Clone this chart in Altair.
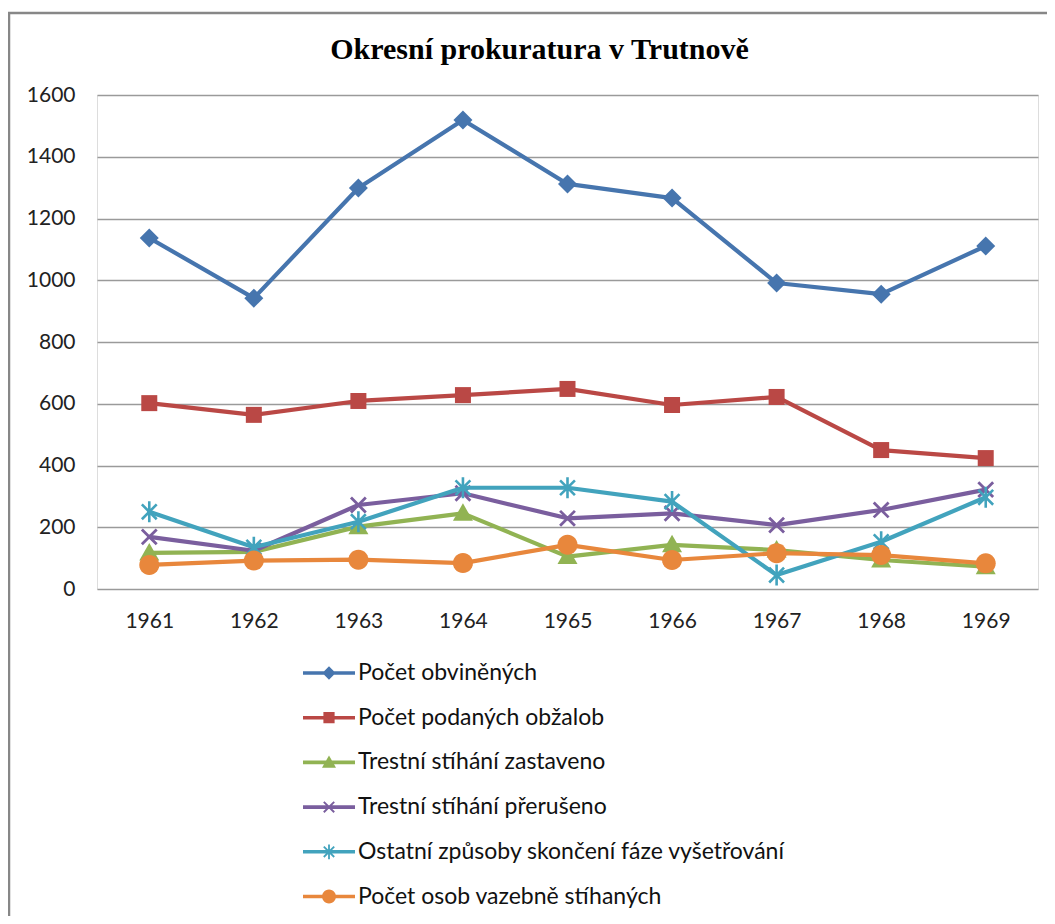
import math
import altair as alt
import pandas as pd

# ---------------- data ----------------
years = ["1961", "1962", "1963", "1964", "1965", "1966", "1967", "1968", "1969"]
series_names = [
    "Počet obviněných",
    "Počet podaných obžalob",
    "Trestní stíhání zastaveno",
    "Trestní stíhání přerušeno",
    "Ostatní způsoby skončení fáze vyšetřování",
    "Počet osob vazebně stíhaných",
]
obvinenych = [1137, 942, 1299, 1519, 1312, 1266, 991, 955, 1111]
obzalob = [602, 564, 609, 628, 648, 596, 622, 450, 424]
zastaveno = [117, 120, 202, 245, 105, 143, 126, 94, 72]
preruseno = [169, 124, 272, 310, 229, 245, 207, 256, 322]
ostatni = [250, 135, 218, 328, 328, 283, 45, 153, 297]
vazebne = [78, 92, 95, 84, 143, 94, 116, 110, 83]
series_values = [obvinenych, obzalob, zastaveno, preruseno, ostatni, vazebne]

colors = ["#4675AE", "#BA4845", "#91B353", "#7A5E9E", "#42A3BD", "#E8873C"]
marker_kinds = ["diamond", "square", "triangle", "x", "star", "circle"]


# ---------------- marker geometry helpers (style only) ----------------
def clockwise(pts):
    a = 0.0
    for i in range(len(pts)):
        x1, y1 = pts[i]
        x2, y2 = pts[(i + 1) % len(pts)]
        a += x1 * y2 - x2 * y1
    return pts if a > 0 else pts[::-1]


def bar(angle_deg, half_len, half_th):
    a = math.radians(angle_deg)
    dx, dy = math.cos(a), math.sin(a)
    nx, ny = -dy, dx
    return [
        (dx * half_len + nx * half_th, dy * half_len + ny * half_th),
        (dx * half_len - nx * half_th, dy * half_len - ny * half_th),
        (-dx * half_len - nx * half_th, -dy * half_len - ny * half_th),
        (-dx * half_len + nx * half_th, -dy * half_len + ny * half_th),
    ]


def circle(r, n=28):
    return [(r * math.cos(2 * math.pi * i / n), r * math.sin(2 * math.pi * i / n)) for i in range(n)]


def marker_polys(kind, s):
    if kind == "diamond":
        return [[(0, -9.5 * s), (9.5 * s, 0), (0, 9.5 * s), (-9.5 * s, 0)]]
    if kind == "square":
        h = 8 * s
        return [[(-h, -h), (h, -h), (h, h), (-h, h)]]
    if kind == "triangle":
        return [[(0, -10 * s), (10 * s, 7.5 * s), (-10 * s, 7.5 * s)]]
    if kind == "x":
        return [bar(45, 10.5 * s, 1.4 * s), bar(135, 10.5 * s, 1.4 * s)]
    if kind == "star":
        return [bar(45, 10.5 * s, 1.3 * s), bar(135, 10.5 * s, 1.3 * s), bar(90, 10.5 * s, 1.3 * s)]
    return [circle(10 * s)]


def to_path(polys, unit):
    parts = []
    for p in polys:
        p = clockwise(p)
        pts = ["%.4f,%.4f" % (x / unit, y / unit) for x, y in p]
        parts.append("M" + " L".join(pts) + " Z")
    return " ".join(parts)


PLOT_UNIT = 12.0  # px per path unit -> size = (2*unit)^2
plot_size = (2 * PLOT_UNIT) ** 2
plot_paths = [to_path(marker_polys(k, 1.0), PLOT_UNIT) for k in marker_kinds]

LEG_UNIT = 26.0
leg_size = (2 * LEG_UNIT) ** 2
legend_paths = []
for k in marker_kinds:
    line = [[(-LEG_UNIT, -1.8), (LEG_UNIT, -1.8), (LEG_UNIT, 1.8), (-LEG_UNIT, 1.8)]]
    legend_paths.append(to_path(line + marker_polys(k, 0.7), LEG_UNIT))

# ---------------- data table ----------------
rows = []
for name, vals in zip(series_names, series_values):
    for y, v in zip(years, vals):
        rows.append({"year": y, "value": v, "series": name})
df = pd.DataFrame(rows)

xscale = alt.Scale(type="point", domain=years, padding=0.5)
yscale = alt.Scale(domain=[0, 1600], nice=False, zero=True)
xaxis = alt.Axis(
    title=None, labelAngle=0, domain=False, ticks=False, tickSize=0, grid=False,
    labelFont="Lato", labelFontSize=21, labelColor="#222222", labelPadding=21,
)
yaxis = alt.Axis(
    title=None, values=list(range(0, 1601, 200)), format="d", domain=False, ticks=False, tickSize=0,
    grid=True, gridColor="#9A9A9A", gridWidth=1.3,
    labelFont="Lato", labelFontSize=21, labelColor="#222222", labelPadding=22,
)

X = alt.X("year:O", scale=xscale, axis=xaxis, sort=years)
Y = alt.Y("value:Q", scale=yscale, axis=yaxis)

layers = []

# outer frame (decoration)
frame = alt.Chart(pd.DataFrame({"a": [0]})).mark_rect(
    fillOpacity=0, stroke="#878787", strokeWidth=2.5
).encode(x=alt.value(-88), x2=alt.value(1200), y=alt.value(-82), y2=alt.value(1200))
layers.append(frame)

for name, c, path in zip(series_names, colors, plot_paths):
    sub = alt.Chart(df).transform_filter(alt.datum.series == name)
    layers.append(
        sub.mark_line(color=c, strokeWidth=4.2, strokeJoin="round", strokeCap="round").encode(x=X, y=Y)
    )
    layers.append(
        sub.mark_point(shape=path, size=plot_size, filled=True, color=c, opacity=1, strokeWidth=0).encode(x=X, y=Y)
    )

leg = alt.Legend(
    title=None, orient="none", legendX=206, legendY=552, direction="vertical",
    labelFont="Lato", labelFontSize=23, labelColor="#111111", labelOffset=3,
    symbolSize=leg_size, symbolStrokeWidth=0, symbolOpacity=1, rowPadding=6.7, padding=0,
    labelLimit=600,
)
legend_layer = alt.Chart(df).transform_filter("false").mark_point(filled=True, opacity=1).encode(
    color=alt.Color("series:N", scale=alt.Scale(domain=series_names, range=colors), legend=leg),
    shape=alt.Shape("series:N", scale=alt.Scale(domain=series_names, range=legend_paths), legend=leg),
)
layers.append(legend_layer)

chart = alt.layer(*layers).properties(
    width=941,
    height=494,
    title=alt.TitleParams(
        "Okresní prokuratura v Trutnově", font="Liberation Serif", fontSize=30,
        fontWeight="bold", color="#000000", anchor="middle", frame="group", offset=30, dx=-28, dy=83,
    ),
    autosize=alt.AutoSizeParams(type="none"),
    padding={"left": 89, "top": 87, "right": 9, "bottom": 327},
).configure_view(stroke=None).configure(background="white")

chart.save("out.html", embed_options={"renderer": "svg", "actions": False})
